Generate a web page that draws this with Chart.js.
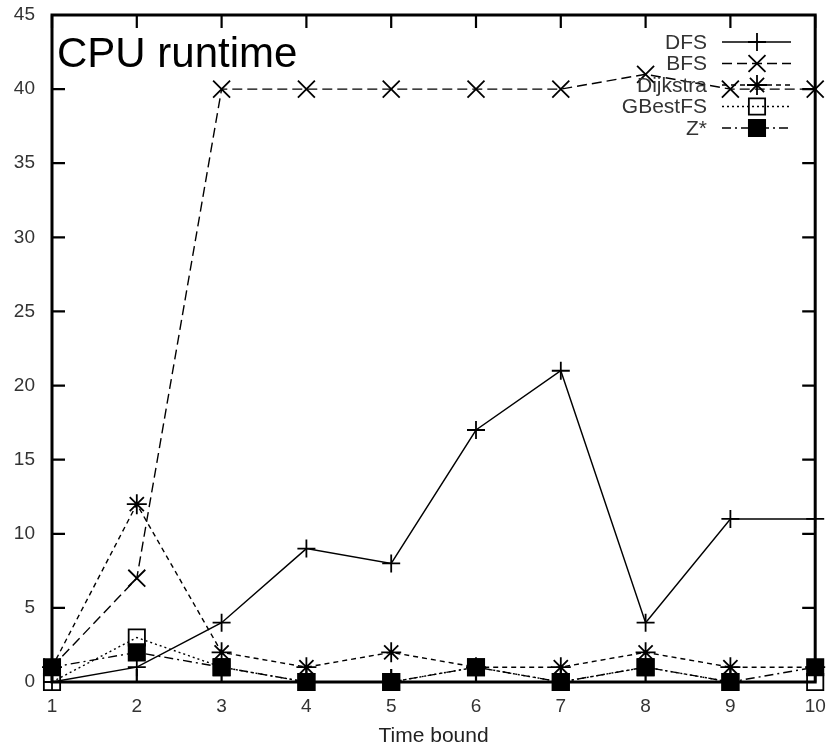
<!DOCTYPE html>
<html>
<head>
<meta charset="utf-8">
<script src="https://cdn.jsdelivr.net/npm/chart.js@4.4.0/dist/chart.umd.min.js"></script>
<style>
  html, body { margin: 0; padding: 0; background: #fff; }
</style>
</head>
<body>
<canvas id="chart" width="829" height="749"></canvas>
<script>
// values
const timeBounds = [1, 2, 3, 4, 5, 6, 7, 8, 9, 10];
const dfsValues = [0, 1, 4, 9, 8, 17, 21, 4, 11, 11];
const bfsValues = [1, 7, 40, 40, 40, 40, 40, 41, 40, 40];
const dijkstraValues = [1, 12, 2, 1, 2, 1, 1, 2, 1, 1];
const gbestValues = [0, 3, 1, 0, 0, 1, 0, 1, 0, 0];
const zstarValues = [1, 2, 1, 0, 0, 1, 0, 1, 0, 1];
const yTickValues = [0, 5, 10, 15, 20, 25, 30, 35, 40, 45];
const seriesNames = ['DFS', 'BFS', 'Dijkstra', 'GBestFS', 'Z*'];

const FONT = '"Liberation Sans", Arial, sans-serif';

function toPoints(values) {
    return timeBounds.map(function (x, i) { return { x: x, y: values[i] }; });
}

function makeSet(label, values, dash, style, radius, fill) {
    return {
        label: label,
        data: toPoints(values),
        borderColor: '#000',
        borderWidth: 1.4,
        borderDash: dash,
        pointStyle: style,
        pointRadius: radius,
        pointHoverRadius: radius,
        pointBorderColor: '#000',
        pointBackgroundColor: fill,
        pointBorderWidth: 1.8,
        tension: 0,
        fill: false,
        clip: false
    };
}

// frame + inward ticks on all four sides, gnuplot style
const framePlugin = {
    id: 'frame',
    beforeDatasetsDraw: function (chart) {
        const ctx = chart.ctx;
        const a = chart.chartArea;
        const xs = chart.scales.x;
        const ys = chart.scales.y;
        const len = 13;
        ctx.save();
        ctx.strokeStyle = '#000';
        ctx.lineWidth = 2.2;
        ctx.setLineDash([]);
        ctx.beginPath();
        timeBounds.forEach(function (v) {
            const px = xs.getPixelForValue(v);
            ctx.moveTo(px, a.bottom); ctx.lineTo(px, a.bottom - len);
            ctx.moveTo(px, a.top); ctx.lineTo(px, a.top + len);
        });
        yTickValues.forEach(function (v) {
            const py = ys.getPixelForValue(v);
            ctx.moveTo(a.left, py); ctx.lineTo(a.left + len, py);
            ctx.moveTo(a.right, py); ctx.lineTo(a.right - len, py);
        });
        ctx.stroke();
        ctx.lineWidth = 3;
        ctx.strokeRect(a.left, a.top, a.right - a.left, a.bottom - a.top);
        ctx.restore();
    },
    afterDatasetsDraw: function (chart) {
        const ctx = chart.ctx;
        const a = chart.chartArea;
        ctx.save();
        // big title inside the plot
        ctx.fillStyle = '#000';
        ctx.font = '42px ' + FONT;
        ctx.textAlign = 'left';
        ctx.textBaseline = 'alphabetic';
        ctx.fillText('CPU runtime', a.left + 5, 67);

        // key, top right
        chart.data.datasets.forEach(function (ds, i) {
            const y = 42 + i * 21.5;
            ctx.font = '21px ' + FONT;
            ctx.fillStyle = '#333';
            ctx.textAlign = 'right';
            ctx.textBaseline = 'middle';
            ctx.fillText(ds.label, 707, y + 1);

            ctx.strokeStyle = '#000';
            ctx.lineWidth = ds.borderWidth;
            ctx.setLineDash(ds.borderDash);
            ctx.beginPath();
            ctx.moveTo(722, y);
            ctx.lineTo(791, y);
            ctx.stroke();

            ctx.setLineDash([]);
            ctx.lineWidth = ds.pointBorderWidth;
            ctx.fillStyle = ds.pointBackgroundColor;
            Chart.helpers.drawPoint(ctx, {
                pointStyle: ds.pointStyle,
                radius: ds.pointRadius,
                rotation: 0,
                borderWidth: ds.pointBorderWidth
            }, 757, y);
        });
        ctx.restore();
    }
};

const datasets = [
    makeSet(seriesNames[0], dfsValues, [], 'cross', 9, '#000'),
    makeSet(seriesNames[1], bfsValues, [10, 5], 'crossRot', 12, '#000'),
    makeSet(seriesNames[2], dijkstraValues, [5, 4], 'star', 10, '#000'),
    makeSet(seriesNames[3], gbestValues, [2, 3], 'rect', 11.5, 'rgba(0,0,0,0)'),
    makeSet(seriesNames[4], zstarValues, [9, 4, 2, 4], 'rect', 11.5, '#000')
];

new Chart(document.getElementById('chart'), {
    type: 'line',
    data: { datasets: datasets },
    options: {
        responsive: false,
        animation: false,
        events: [],
        layout: { padding: { left: 0, right: 11, top: 15, bottom: 0 } },
        plugins: {
            legend: { display: false },
            tooltip: { enabled: false }
        },
        scales: {
            x: {
                type: 'linear',
                min: 1,
                max: 10,
                afterFit: function (s) {
                    s.height = 67;
                    s.paddingLeft = 0;
                    s.paddingRight = 0;
                },
                afterBuildTicks: function (s) {
                    s.ticks = timeBounds.map(function (v) { return { value: v }; });
                },
                grid: { display: false, drawTicks: false },
                border: { display: false },
                ticks: {
                    color: '#333',
                    padding: 13,
                    maxRotation: 0,
                    autoSkip: false,
                    font: { family: FONT, size: 19 }
                },
                title: {
                    display: true,
                    text: 'Time bound',
                    color: '#222',
                    padding: { top: 0, bottom: 0 },
                    font: { family: FONT, size: 21 }
                }
            },
            y: {
                min: 0,
                max: 45,
                afterFit: function (s) {
                    s.width = 52;
                    s.paddingTop = 0;
                    s.paddingBottom = 0;
                },
                afterBuildTicks: function (s) {
                    s.ticks = yTickValues.map(function (v) { return { value: v }; });
                },
                grid: { display: false, drawTicks: false },
                border: { display: false },
                ticks: {
                    color: '#333',
                    padding: 17,
                    font: { family: FONT, size: 19 }
                }
            }
        }
    },
    plugins: [framePlugin]
});
</script>
</body>
</html>
